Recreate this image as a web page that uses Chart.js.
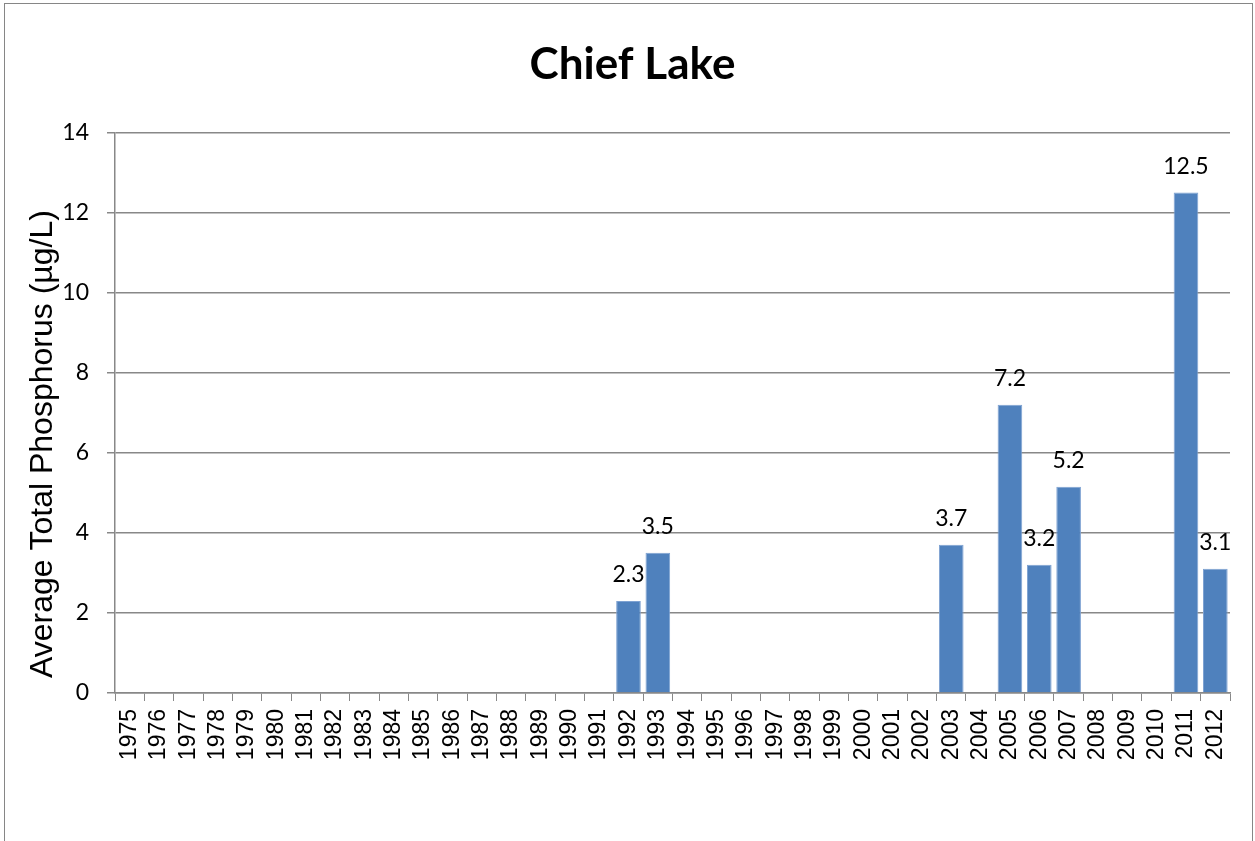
<!DOCTYPE html>
<html>
<head>
<meta charset="utf-8">
<script src="https://cdn.jsdelivr.net/npm/chart.js@4.4.1/dist/chart.umd.min.js"></script>
<style>
  html, body { margin: 0; padding: 0; background: #fff; overflow: hidden; }
  #marco { position: absolute; left: 4px; top: 3px; width: 1249px; height: 900px; border: 1px solid #868686; box-sizing: border-box; }
  #graficoLago { position: absolute; left: 0; top: 0; }
</style>
</head>
<body>
<div id="marco"></div>
<canvas id="graficoLago" width="1255" height="841"></canvas>
<script>
// datos
const anos = ["1975","1976","1977","1978","1979","1980","1981","1982","1983","1984",
  "1985","1986","1987","1988","1989","1990","1991","1992","1993","1994",
  "1995","1996","1997","1998","1999","2000","2001","2002","2003","2004",
  "2005","2006","2007","2008","2009","2010","2011","2012"];
const fosforo = [null,null,null,null,null,null,null,null,null,null,
  null,null,null,null,null,null,null,2.3,3.5,null,
  null,null,null,null,null,null,null,null,3.7,null,
  7.2,3.2,5.15,null,null,null,12.5,3.1];
const ticksY = [0, 2, 4, 6, 8, 10, 12, 14];
const tituloY = 'Average Total Phosphorus (µg/L)';

const etiquetasBarras = {
    id: 'etiquetasBarras',
    afterDatasetsDraw(chart) {
        const ctx = chart.ctx;
        const meta = chart.getDatasetMeta(0);
        ctx.save();
        ctx.font = '23px Lato, "Open Sans", sans-serif';
        ctx.fillStyle = '#000';
        ctx.textAlign = 'center';
        ctx.textBaseline = 'middle';
        meta.data.forEach((barra, i) => {
            const v = fosforo[i];
            if (v === null) return;
            ctx.fillText(v.toFixed(1), barra.x, barra.y - 26);
        });
        ctx.restore();
    }
};

// el título va centrado en todo el ancho, no sobre el área del gráfico
const centrarTitulo = {
    id: 'centrarTitulo',
    afterLayout(chart) {
        if (chart.titleBlock) {
            chart.titleBlock.left = 10;
            chart.titleBlock.right = chart.width;
        }
    }
};

// título del eje y, empieza un poco por encima del 0 como en Excel
const tituloEjeY = {
    id: 'tituloEjeY',
    afterDraw(chart) {
        const ctx = chart.ctx;
        ctx.save();
        ctx.translate(43, chart.chartArea.bottom - 15);
        ctx.rotate(-Math.PI / 2);
        ctx.font = '32px "Liberation Sans", Arial, sans-serif';
        ctx.fillStyle = '#000';
        ctx.textAlign = 'left';
        ctx.textBaseline = 'middle';
        ctx.fillText(tituloY, 0, 0);
        ctx.restore();
    }
};

const grafico = new Chart(document.querySelector("#graficoLago"), {
    type: 'bar',
    data: {
        labels: anos,
        datasets: [
            {
                label: 'Chief Lake',
                data: fosforo,
                backgroundColor: '#4F81BD',
                borderColor: '#7EA2D2',
                borderWidth: 1,
                categoryPercentage: 1,
                barPercentage: 0.84
            }
        ]
    },
    options: {
        responsive: false,
        animation: false,
        layout: { padding: { left: 0, right: 25, top: 0, bottom: 0 } },
        plugins: {
            legend: { display: false },
            tooltip: { enabled: false },
            title: {
                display: true,
                text: 'Chief Lake',
                color: '#000',
                font: { family: 'Lato, "Open Sans", sans-serif', size: 44, weight: 'bold', lineHeight: 1.2 },
                padding: { top: 38, bottom: 41.5 }
            }
        },
        scales: {
            x: {
                offset: true,
                grid: { display: true, drawOnChartArea: false, drawTicks: true, tickLength: 8, color: '#888', offset: true },
                border: { color: '#888', width: 1.5 },
                ticks: {
                    color: '#000',
                    autoSkip: false,
                    maxRotation: 90,
                    minRotation: 90,
                    padding: 8,
                    font: { family: '"Liberation Sans", Arial, sans-serif', size: 23 }
                },
                afterFit(scale) { scale.height = 148; }
            },
            y: {
                min: 0,
                max: 14,
                afterBuildTicks(scale) { scale.ticks = ticksY.map(v => ({ value: v })); },
                grid: { color: '#888', lineWidth: 1.5, drawTicks: true, tickLength: 8 },
                border: { color: '#888', width: 1.5 },
                ticks: {
                    color: '#000',
                    padding: 18,
                    font: { family: 'Lato, "Open Sans", sans-serif', size: 23 }
                },
                afterFit(scale) { scale.width = 115; }
            }
        }
    },
    plugins: [etiquetasBarras, centrarTitulo, tituloEjeY]
});
</script>
</body>
</html>
